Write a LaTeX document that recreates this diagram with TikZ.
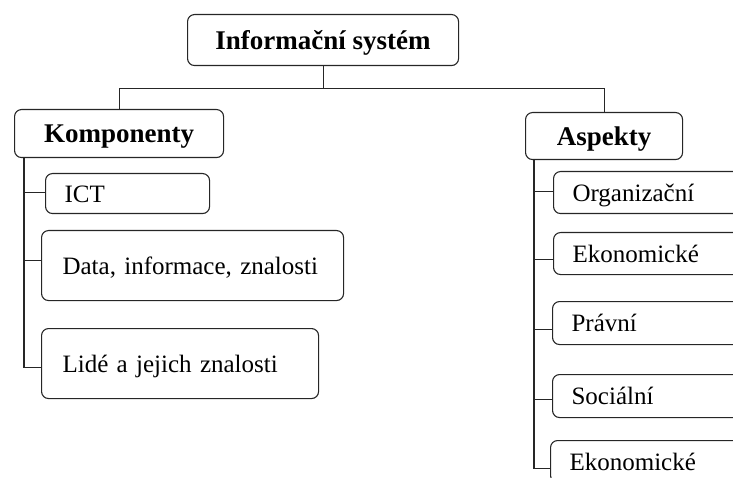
\documentclass[tikz,border=0pt]{standalone}
\usepackage{fontspec}
\setmainfont{Liberation Serif}
\begin{document}
\begin{tikzpicture}[x=1pt,y=-1pt,
  box/.style={draw=black!85, line width=1.1pt, rounded corners=7pt, anchor=north west, inner sep=0pt},
  headbox/.style={box, align=center, text height=18pt, text depth=0pt, font=\fontsize{27}{30}\selectfont\bfseries},
  leaf/.style={box, align=left, inner xsep=19pt, text height=17pt, text depth=0pt, font=\fontsize{25}{28}\selectfont},
  conn/.style={draw=black!85, line width=1.1pt}]
\useasboundingbox (0,0) rectangle (733,478);
\clip (0,0) rectangle (733,478);

% root and the two branch heads
\node[headbox, minimum width=271pt, minimum height=51pt] (top) at (187,14) {Informační systém};
\node[headbox, minimum width=209pt, minimum height=48pt] (komp) at (14,109) {Komponenty};
\node[headbox, minimum width=157pt, minimum height=47pt] (asp) at (525,112) {Aspekty};

% components
\node[leaf, text width=126pt, minimum height=40pt] (ict) at (45,173) {ICT};
\node[leaf, inner xsep=21pt, text width=260pt, minimum height=70pt] (data) at (41,230) {Data, informace, znalosti};
\node[leaf, inner xsep=21pt, text width=235pt, minimum height=70pt] (lide) at (41,328) {Lidé a jejich znalosti};

% aspects
\node[leaf, text width=180pt, minimum height=42pt] (org) at (553,171) {Organizační};
\node[leaf, text width=180pt, minimum height=42pt] (ekon) at (553,232) {Ekonomické};
\node[leaf, text width=180pt, minimum height=43pt] (prav) at (552,301) {Právní};
\node[leaf, text width=180pt, minimum height=43pt] (soc) at (552,374) {Sociální};
\node[leaf, text width=180pt, minimum height=42pt] (ekon2) at (550,440) {Ekonomické};

% tree connectors
\draw[conn] (top.south) -- ++(0,22) coordinate (hub);
\draw[conn] (hub) -| (komp.north);
\draw[conn] (hub) -| (asp.north);

\coordinate (ks) at ([xshift=10pt]komp.south west);
\draw[conn] (ks) |- ([yshift=1pt]ict.west);
\draw[conn] (ks) |- ([yshift=5pt]data.west);
\draw[conn] (ks) |- ([yshift=-4pt]lide.west);

\coordinate (as) at ([xshift=9pt]asp.south west);
\draw[conn] (as) |- ([yshift=1pt]org.west);
\draw[conn] (as) |- ([yshift=-6pt]ekon.west);
\draw[conn] (as) |- ([yshift=-6.5pt]prav.west);
\draw[conn] (as) |- ([yshift=-3.5pt]soc.west);
\draw[conn] (as) |- ([yshift=-7pt]ekon2.west);
\end{tikzpicture}
\end{document}
